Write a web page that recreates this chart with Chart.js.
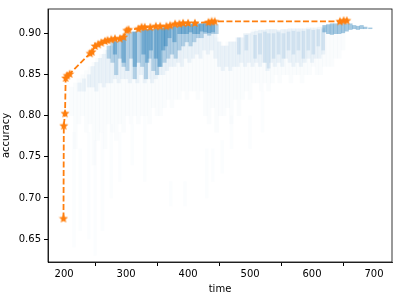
<!DOCTYPE html>
<html>
<head>
<meta charset="utf-8">
<script src="https://cdn.jsdelivr.net/npm/chart.js@4/dist/chart.umd.min.js"></script>
<style>
  html, body { margin: 0; padding: 0; background: #fff; }
  canvas { display: block; }
</style>
</head>
<body>
<canvas id="chart" width="399" height="299"></canvas>
<script>
// best-so-far front (orange, dashed with stars)
const frontTime = [199, 199.5, 201.5, 202.5, 205, 209, 242, 245, 250, 255, 260, 266, 270, 276, 282, 290, 296,
  301, 304, 320, 325, 330, 339, 348, 355, 365, 371, 379, 386, 392, 400, 411, 433, 438, 443, 645, 651, 656];
const frontAcc = [0.675, 0.788, 0.803, 0.846, 0.849, 0.851, 0.876, 0.878, 0.885, 0.887, 0.889, 0.891, 0.892, 0.893, 0.894, 0.894, 0.896,
  0.904, 0.905, 0.906, 0.908, 0.908, 0.908, 0.909, 0.909, 0.909, 0.910, 0.912, 0.912, 0.913, 0.913, 0.913, 0.914, 0.915, 0.915, 0.915, 0.916, 0.916];

// all evaluated runs, read as vertical streaks: [time, lowest acc, highest acc]
const runsDeep = [[216, 0.64, 0.78], [226, 0.66, 0.76], [240, 0.65, 0.78], [250, 0.63, 0.77], [262, 0.66, 0.78],
  [276, 0.70, 0.79], [290, 0.72, 0.78], [310, 0.74, 0.79], [330, 0.72, 0.80], [372, 0.69, 0.72], [395, 0.69, 0.72],
  [430, 0.70, 0.76], [440, 0.72, 0.76], [455, 0.73, 0.77], [470, 0.76, 0.80], [500, 0.76, 0.80], [520, 0.78, 0.83]];

const runsFaint = [[212, 0.80, 0.835], [218, 0.76, 0.84], [224, 0.79, 0.845], [230, 0.80, 0.85], [236, 0.78, 0.855],
  [242, 0.79, 0.86], [248, 0.74, 0.865], [254, 0.77, 0.87], [260, 0.78, 0.875], [266, 0.76, 0.88], [272, 0.79, 0.885],
  [278, 0.78, 0.89], [284, 0.77, 0.89], [290, 0.79, 0.895], [296, 0.78, 0.9], [302, 0.80, 0.9], [308, 0.79, 0.9],
  [314, 0.80, 0.9], [320, 0.79, 0.9], [326, 0.80, 0.905], [332, 0.80, 0.905], [338, 0.79, 0.905], [344, 0.81, 0.905],
  [350, 0.80, 0.905], [356, 0.80, 0.91], [362, 0.81, 0.91], [368, 0.82, 0.91], [374, 0.81, 0.91], [380, 0.82, 0.91],
  [386, 0.82, 0.91], [392, 0.83, 0.91], [398, 0.82, 0.91], [404, 0.83, 0.91], [410, 0.83, 0.91], [416, 0.82, 0.91],
  [422, 0.83, 0.91], [428, 0.80, 0.905], [434, 0.79, 0.9], [440, 0.81, 0.9], [446, 0.78, 0.895], [452, 0.80, 0.89],
  [458, 0.80, 0.885], [464, 0.81, 0.89], [470, 0.79, 0.89], [476, 0.82, 0.89], [482, 0.80, 0.895], [488, 0.82, 0.895],
  [494, 0.83, 0.9], [500, 0.82, 0.9], [506, 0.84, 0.905], [512, 0.84, 0.905], [518, 0.83, 0.905], [524, 0.84, 0.905],
  [530, 0.83, 0.905], [536, 0.84, 0.905], [542, 0.85, 0.905], [548, 0.84, 0.9], [554, 0.85, 0.905], [560, 0.85, 0.905],
  [566, 0.84, 0.905], [572, 0.85, 0.905], [578, 0.85, 0.905], [584, 0.84, 0.905], [590, 0.85, 0.905], [596, 0.85, 0.905],
  [602, 0.86, 0.905], [608, 0.85, 0.905], [614, 0.85, 0.905], [620, 0.86, 0.91], [626, 0.86, 0.91], [632, 0.86, 0.91],
  [638, 0.87, 0.91], [644, 0.87, 0.91], [650, 0.88, 0.91]];

const runsLight = [[225, 0.83, 0.84], [232, 0.83, 0.845], [240, 0.835, 0.85], [246, 0.835, 0.86], [252, 0.83, 0.865],
  [258, 0.84, 0.87], [264, 0.835, 0.875], [270, 0.84, 0.88], [276, 0.84, 0.885], [282, 0.845, 0.89], [288, 0.84, 0.89],
  [294, 0.845, 0.895], [300, 0.845, 0.9], [306, 0.84, 0.9], [312, 0.845, 0.902], [318, 0.84, 0.902], [324, 0.85, 0.903],
  [330, 0.84, 0.904], [336, 0.845, 0.905], [342, 0.84, 0.905], [348, 0.845, 0.906], [354, 0.85, 0.906], [360, 0.85, 0.907],
  [366, 0.855, 0.908], [372, 0.86, 0.908], [378, 0.86, 0.909], [384, 0.865, 0.91], [390, 0.86, 0.91], [396, 0.87, 0.91],
  [402, 0.865, 0.911], [408, 0.87, 0.911], [414, 0.875, 0.911], [420, 0.87, 0.912], [426, 0.88, 0.912], [432, 0.875, 0.912],
  [438, 0.88, 0.912], [444, 0.87, 0.91], [450, 0.86, 0.89], [456, 0.855, 0.885], [462, 0.86, 0.885], [468, 0.855, 0.89],
  [474, 0.86, 0.89], [480, 0.86, 0.895], [486, 0.865, 0.895], [492, 0.86, 0.9], [498, 0.865, 0.9], [504, 0.86, 0.902],
  [510, 0.865, 0.903], [516, 0.86, 0.904], [522, 0.865, 0.904], [528, 0.855, 0.905], [534, 0.865, 0.905], [540, 0.86, 0.905],
  [546, 0.865, 0.904], [552, 0.86, 0.905], [558, 0.87, 0.905], [564, 0.865, 0.906], [570, 0.86, 0.906], [576, 0.865, 0.906],
  [582, 0.86, 0.906], [588, 0.865, 0.906], [594, 0.87, 0.907], [600, 0.865, 0.907], [606, 0.87, 0.907], [612, 0.87, 0.908],
  [618, 0.875, 0.908]];

const runsMidRight = [[482, 0.875, 0.895], [494, 0.88, 0.898], [508, 0.87, 0.898], [516, 0.875, 0.9], [524, 0.865, 0.902],
  [530, 0.858, 0.9], [538, 0.87, 0.9], [546, 0.875, 0.902], [554, 0.87, 0.9], [562, 0.88, 0.902], [570, 0.875, 0.903],
  [578, 0.88, 0.902], [586, 0.87, 0.903], [594, 0.88, 0.905], [602, 0.875, 0.904], [610, 0.885, 0.905], [618, 0.88, 0.906]];

const runsMid = [[272, 0.87, 0.885], [278, 0.865, 0.89], [284, 0.85, 0.89], [290, 0.87, 0.893], [296, 0.86, 0.895],
  [302, 0.855, 0.9], [308, 0.87, 0.902], [314, 0.845, 0.902], [320, 0.865, 0.903], [326, 0.86, 0.904], [332, 0.845, 0.905],
  [338, 0.87, 0.905], [344, 0.855, 0.905], [350, 0.85, 0.906], [356, 0.86, 0.906], [362, 0.865, 0.907], [368, 0.87, 0.908],
  [374, 0.875, 0.908], [380, 0.87, 0.909], [386, 0.88, 0.909], [392, 0.885, 0.91], [398, 0.89, 0.91], [404, 0.885, 0.911],
  [410, 0.89, 0.911], [416, 0.895, 0.911], [422, 0.895, 0.912], [428, 0.9, 0.912], [434, 0.898, 0.912], [440, 0.9, 0.912],
  [446, 0.9, 0.911]];

const runsDense = [[282, 0.875, 0.895], [296, 0.865, 0.897], [314, 0.86, 0.902], [328, 0.875, 0.905], [334, 0.865, 0.905],
  [340, 0.88, 0.905], [348, 0.87, 0.906], [354, 0.86, 0.906], [360, 0.88, 0.907], [364, 0.885, 0.908], [370, 0.895, 0.909],
  [378, 0.89, 0.909], [386, 0.9, 0.91], [392, 0.9, 0.91], [398, 0.9, 0.911], [404, 0.902, 0.912], [410, 0.9, 0.912],
  [416, 0.9, 0.912], [422, 0.903, 0.912], [428, 0.902, 0.913], [434, 0.901, 0.913], [440, 0.902, 0.913],
  [620, 0.902, 0.91], [626, 0.9, 0.911], [632, 0.899, 0.912], [638, 0.9, 0.912], [644, 0.9, 0.913], [650, 0.901, 0.913],
  [656, 0.903, 0.912], [662, 0.905, 0.912], [668, 0.906, 0.91], [674, 0.905, 0.909], [680, 0.906, 0.91], [686, 0.906, 0.908],
  [694, 0.906, 0.907]];

const xTicks = [200, 300, 400, 500, 600, 700];
const yTicks = [0.65, 0.70, 0.75, 0.80, 0.85, 0.90];

// filled five point star like matplotlib's '*'
function makeStar(size, color) {
  const c = document.createElement('canvas');
  c.width = size; c.height = size;
  const g = c.getContext('2d');
  const cx = size / 2, cy = size / 2 + 0.3, ro = size / 2 - 0.3, ri = ro * 0.45;
  g.beginPath();
  for (let i = 0; i < 10; i++) {
    const r = i % 2 === 0 ? ro : ri;
    const a = -Math.PI / 2 + i * Math.PI / 5;
    g.lineTo(cx + r * Math.cos(a), cy + r * Math.sin(a));
  }
  g.closePath();
  g.fillStyle = color;
  g.fill();
  return c;
}

function streaks(rows, alpha, thickness, order) {
  return {
    type: 'bar',
    data: rows.map(r => ({ x: r[0], y: [r[1], r[2]] })),
    backgroundColor: `rgba(31, 119, 180, ${alpha})`,
    borderWidth: 0,
    barThickness: thickness,
    grouped: false,
    order: order
  };
}

const frame = {
  id: 'frame',
  afterDraw(chart) {
    const { ctx, chartArea: a } = chart;
    ctx.save();
    ctx.strokeStyle = '#000';
    ctx.lineWidth = 0.8;
    ctx.strokeRect(a.left, a.top, a.right - a.left, a.bottom - a.top);
    ctx.restore();
  }
};

const font = { family: 'DejaVu Sans', size: 10 };

new Chart(document.getElementById('chart'), {
  data: {
    datasets: [
      {
        type: 'line',
        data: frontTime.map((t, i) => ({ x: t, y: frontAcc[i] })),
        borderColor: '#ff7f0e',
        borderWidth: 1.8,
        borderDash: [6, 2.5],
        pointStyle: makeStar(10, '#ff7f0e'),
        tension: 0,
        fill: false,
        order: 0
      },
      streaks(runsDeep, 0.015, 3, 6),
      streaks(runsFaint, 0.025, 4, 5),
      streaks(runsLight, 0.07, 3.5, 4),
      streaks(runsMidRight, 0.12, 3, 3),
      streaks(runsMid, 0.28, 3.5, 2),
      streaks(runsDense, 0.4, 3.5, 1)
    ]
  },
  options: {
    responsive: false,
    animation: false,
    devicePixelRatio: 1,
    layout: { padding: { top: 6, right: 7, left: 0, bottom: 0 } },
    plugins: { legend: { display: false }, tooltip: { enabled: false } },
    scales: {
      x: {
        type: 'linear',
        min: 174,
        max: 729,
        offset: false,
        afterFit: s => { s.height = 37; },
        afterBuildTicks: s => { s.ticks = xTicks.map(v => ({ value: v })); },
        ticks: { color: '#000', font, padding: 2, callback: v => String(v) },
        grid: { drawOnChartArea: false, tickLength: 4, color: '#000' },
        border: { color: '#000', width: 0.8 },
        title: { display: true, text: 'time', color: '#000', font, padding: { top: 1, bottom: 4 } }
      },
      y: {
        type: 'linear',
        min: 0.622,
        max: 0.930,
        afterFit: s => { s.width = 48; },
        afterBuildTicks: s => { s.ticks = yTicks.map(v => ({ value: v })); },
        ticks: { color: '#000', font, padding: 3, callback: v => v.toFixed(2) },
        grid: { drawOnChartArea: false, tickLength: 4, color: '#000' },
        border: { color: '#000', width: 0.8 },
        title: { display: true, text: 'accuracy', color: '#000', font, padding: { top: 0, bottom: 2 } }
      }
    }
  },
  plugins: [frame]
});
</script>
</body>
</html>
